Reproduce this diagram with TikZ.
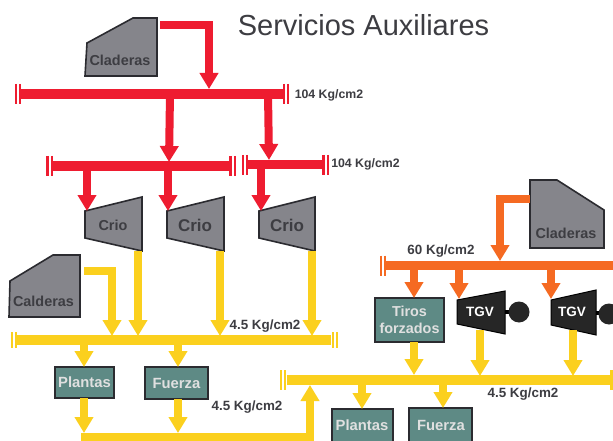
\documentclass[tikz,border=0pt]{standalone}
\usepackage{fontspec}
\setmainfont{Liberation Sans}
\usetikzlibrary{arrows.meta}
\definecolor{cred}{HTML}{EE1C30}
\definecolor{corange}{HTML}{F56A22}
\definecolor{cyellow}{HTML}{FBD01E}
\definecolor{cgray}{HTML}{85858B}
\definecolor{cteal}{HTML}{5E8A85}
\definecolor{cdark}{HTML}{2B2B30}
\definecolor{ctext}{HTML}{3D3D42}
\tikzset{
  flow/.style={line width=8pt,-{Triangle[width=18pt,length=16pt]}},
  pipe/.style={line width=8pt},
  busline/.style={line width=9.5pt},
  capbar/.style={line width=2.4pt},
  shell/.style={draw=cdark,line width=1.6pt,fill=cgray,line join=miter},
  black shell/.style={draw=black,line width=1pt,fill=black!85!white},
  lbl/.style={font=\bfseries\fontsize{12.3}{14}\selectfont,text=ctext,inner sep=0pt},
  lblbig/.style={font=\bfseries\fontsize{13.4}{15}\selectfont,text=ctext,inner sep=0pt},
  unit/.style={font=\bfseries\fontsize{14.4}{17}\selectfont,text=ctext,inner sep=0pt},
  unitbig/.style={font=\bfseries\fontsize{17}{19}\selectfont,text=ctext,inner sep=0pt},
  tgvt/.style={font=\bfseries\fontsize{13.5}{15}\selectfont,text=white,inner sep=0pt},
  boxtext/.style={text=white!88!black,inner sep=0pt,font=\bfseries\fontsize{14.8}{17}\selectfont},
  box/.style={draw=cdark,line width=1.6pt,fill=cteal,text=white!88!black,inner sep=0pt,
    font=\bfseries\fontsize{14.8}{17}\selectfont,align=center,minimum width=#1},
}
\newcommand{\buscap}[4]{% x, y, half-height, colour: double bar
  \draw[capbar,#4] (#1-2.2,#2-#3) -- (#1-2.2,#2+#3);
  \draw[capbar,#4] (#1+2.2,#2-#3) -- (#1+2.2,#2+#3);}
\begin{document}
\begin{tikzpicture}[x=1pt,y=-1pt]
\path[use as bounding box,clip] (0,0) rectangle (613,441);
\fill[white] (0,0) rectangle (613,441);

\node[inner sep=0pt,font=\fontsize{29}{32}\selectfont,text=ctext] (title) at (363.5,25) {Servicios Auxiliares};

% ---- coordinates
\coordinate (b1a) at (20,94);   \coordinate (b1b) at (283,94);
\coordinate (b2a) at (52,166);  \coordinate (b2b) at (230,166);
\coordinate (b3a) at (248,164.5); \coordinate (b3b) at (323,164.5);
\coordinate (b4a) at (17,340);  \coordinate (b4b) at (331,340);
\coordinate (b5a) at (287,380); \coordinate (b5b) at (612,380);
\coordinate (b6a) at (385,265.5); \coordinate (b6b) at (613,265.5);

% ---- shells
\draw[shell] (85,76) -- (87,43) -- (133,18) -- (157,18) -- (157,76) -- cycle;
\node[unit] (cald1) at (120,60) {Claderas};
\draw[shell] (85,211) -- (142,197) -- (142,251) -- (85,238) -- cycle;
\node[unit] (crio1) at (113,225) {Crio};
\draw[shell] (167,211) -- (224,197) -- (224,251) -- (167,238) -- cycle;
\node[unitbig] (crio2) at (195,225) {Crio};
\draw[shell] (259,211) -- (315,197) -- (315,251) -- (259,238) -- cycle;
\node[unitbig] (crio3) at (287,225) {Crio};
\draw[shell] (9,317) -- (10,281) -- (53,255) -- (80,255) -- (80,317) -- cycle;
\node[unit] (cald2) at (43.5,301) {Calderas};
\draw[shell] (530,180) -- (557,180) -- (604,210) -- (604,248) -- (530,248) -- cycle;
\node[unit] (cald3) at (566,233) {Claderas};

% ---- red
\draw[pipe,cred] (160,25) -- (209,25) -- (209,40);
\draw[flow,cred] (209,25) -- (209,89);
\draw[busline,cred] (b1a) -- (b1b);
\buscap{18}{94}{10}{cred}
\buscap{286}{94}{10}{cred}
\draw[flow,cred] (170,94) -- (169,162);
\draw[flow,cred] (268,94) -- (269,160);
\draw[busline,cred] (b2a) -- (b2b);
\buscap{49.5}{166}{10}{cred}
\buscap{232.5}{166}{10}{cred}
\draw[busline,cred] (b3a) -- (b3b);
\buscap{245}{165}{10}{cred}
\buscap{325.5}{165}{10}{cred}
\draw[flow,cred] (87,166) -- (87,211);
\draw[flow,cred] (168,166) -- (168,211);
\draw[flow,cred] (261,166) -- (261,211);
\node[lbl] (p1) at (329,95) {104 Kg/cm2};
\node[lbl] (p2) at (365.5,164) {104 Kg/cm2};

% ---- yellow upper
\draw[flow,cyellow] (138,251) -- (138,336);
\draw[flow,cyellow] (220,251) -- (220,336);
\draw[flow,cyellow] (312,251) -- (312,336);
\draw[pipe,cyellow] (84,271) -- (112,271) -- (112,300);
\draw[flow,cyellow] (112,271) -- (112,336);
\draw[busline,cyellow] (b4a) -- (b4b);
\buscap{14}{340}{8}{cyellow}
\buscap{335}{340}{8}{cyellow}
\node[lblbig] (p3) at (265,326) {4.5 Kg/cm2};

\node[box=59pt,minimum height=31pt] (pl1) at (84.5,382.5) {Plantas};
\node[box=63pt,minimum height=32pt] (fu1) at (176.5,383) {Fuerza};
\draw[flow,cyellow] (84,340) -- (84,367);
\draw[flow,cyellow] (178,340) -- (178,367);
\draw[flow,cyellow] (84,398) -- (84,433);
\draw[flow,cyellow] (178,399) -- (178,433);
\draw[pipe,cyellow] (81,437) -- (310,437) -- (310,410);
\draw[flow,cyellow] (310,437) -- (310,385);
\node[lblbig] (p4) at (247,407) {4.5 Kg/cm2};

% ---- orange
\draw[pipe,corange] (530,199) -- (500,199) -- (500,225);
\draw[flow,corange] (500,199) -- (500,261);
\draw[busline,corange] (b6a) -- (b6b);
\buscap{383}{265.5}{10}{corange}
\node[lblbig] (p5) at (441,251) {60 Kg/cm2};

\node[box=69pt,minimum height=44pt,font=\bfseries\fontsize{14.4}{16.5}\selectfont] (tiros) at (409.5,320) {Tiros\\forzados};
\draw[flow,corange] (414,266) -- (414,298);
\draw[flow,corange] (459,266) -- (459,299);
\draw[flow,corange] (551,266) -- (551,299);

% ---- TGV
\draw[black shell] (457,300) -- (505,291) -- (505,334) -- (457,324) -- cycle;
\node[tgvt] (tgv1) at (480,312) {TGV};
\draw[line width=4pt,black] (505,312) -- (512,312);
\fill[black!85!white] (519,312) circle (10.5);
\draw[black shell] (551,300) -- (596,290) -- (596,335) -- (551,325) -- cycle;
\node[tgvt] (tgv2) at (572,312) {TGV};
\draw[line width=4pt,black] (596,313) -- (602,313);
\fill[black!85!white] (609,314) circle (10.5);

% ---- yellow lower
\draw[flow,cyellow] (414,342) -- (414,375);
\draw[flow,cyellow] (480,330) -- (480,376);
\draw[flow,cyellow] (573,330) -- (573,376);
\draw[busline,cyellow] (b5a) -- (b5b);
\buscap{283}{380}{10}{cyellow}
\draw[capbar,cyellow] (611.5,370) -- (611.5,390);
\node[lblbig] (p6) at (523,394) {4.5 Kg/cm2};
\node[box=61pt,minimum height=42pt] (pl2) at (362.5,430) {};
\node[box=63pt,minimum height=42pt] (fu2) at (440.5,429) {};
\node[boxtext] (pl2t) at (362,425) {Plantas};
\node[boxtext] (fu2t) at (441,425) {Fuerza};
\draw[flow,cyellow] (362,380) -- (362,409);
\draw[flow,cyellow] (443,380) -- (443,408);
\end{tikzpicture}
\end{document}
